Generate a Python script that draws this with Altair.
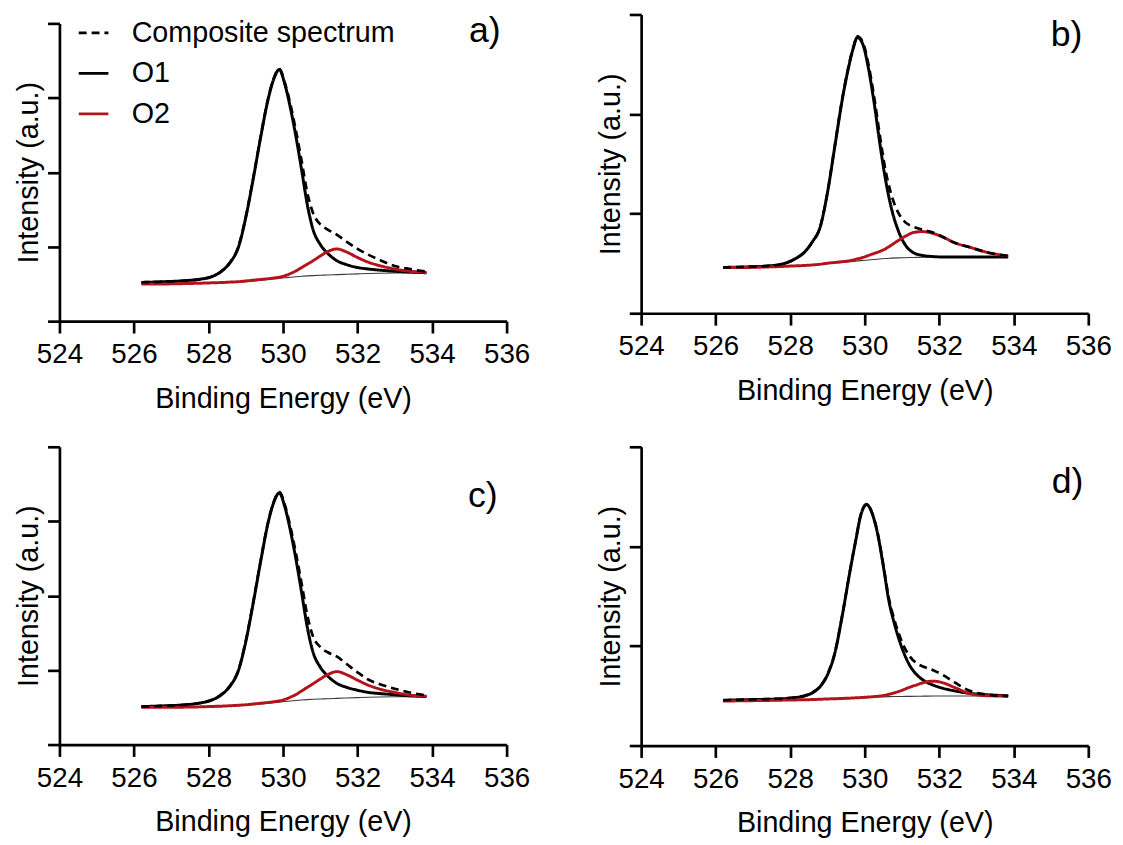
import altair as alt
import pandas as pd

FONT = "Liberation Sans"
RED = "#b3141c"
SERIES = ["Composite spectrum", "O1", "O2"]
X_TICKS = [524, 526, 528, 530, 532, 534, 536]
X_TITLE = "Binding Energy (eV)"
Y_TITLE = "Intensity (a.u.)"

# ---------------- panel a ----------------
XA = [526.2, 526.8, 527.4, 527.8, 528.1, 528.4, 528.6, 528.8, 529.0, 529.2, 529.4, 529.6, 529.75, 529.9,
      530.05, 530.2, 530.35, 530.5, 530.65, 530.8, 531.0, 531.2, 531.45, 531.7, 532.0, 532.3, 532.6, 533.0,
      533.4, 533.85]
O1_A = [0.52, 0.53, 0.545, 0.565, 0.60, 0.69, 0.80, 0.99, 1.39, 1.91, 2.47, 2.98, 3.25, 3.38,
        3.18, 2.86, 2.47, 2.03, 1.57, 1.24, 1.03, 0.91, 0.81, 0.76, 0.72, 0.70, 0.685, 0.67, 0.66, 0.65]
O2_A = [0.50, 0.50, 0.505, 0.51, 0.515, 0.52, 0.525, 0.53, 0.54, 0.55, 0.56, 0.57, 0.58, 0.59,
        0.61, 0.64, 0.675, 0.72, 0.765, 0.81, 0.875, 0.935, 0.97, 0.93, 0.855, 0.79, 0.745, 0.70, 0.67, 0.655]
BG_A = [0.50, 0.50, 0.505, 0.51, 0.512, 0.515, 0.52, 0.525, 0.53, 0.54, 0.55, 0.56, 0.567, 0.575,
        0.583, 0.59, 0.597, 0.603, 0.608, 0.612, 0.616, 0.62, 0.625, 0.63, 0.635, 0.64, 0.643, 0.646, 0.648, 0.65]
COMP_A = [0.52, 0.53, 0.545, 0.565, 0.60, 0.695, 0.805, 0.995, 1.40, 1.92, 2.48, 2.99, 3.26, 3.39,
          3.20, 2.91, 2.55, 2.15, 1.73, 1.46, 1.30, 1.23, 1.16, 1.07, 0.97, 0.89, 0.82, 0.74, 0.70, 0.665]

# ---------------- panel b ----------------
XB = [526.2, 526.8, 527.4, 527.8, 528.1, 528.4, 528.6, 528.8, 529.0, 529.2, 529.4, 529.55, 529.7, 529.8,
      529.95, 530.1, 530.25, 530.4, 530.55, 530.7, 530.9, 531.1, 531.3, 531.55, 531.8, 532.1, 532.4, 532.8,
      533.3, 533.85]
O1_B = [0.46, 0.465, 0.475, 0.495, 0.54, 0.62, 0.72, 0.86, 1.21, 1.68, 2.15, 2.44, 2.67, 2.77,
        2.70, 2.46, 2.12, 1.72, 1.36, 1.08, 0.83, 0.68, 0.61, 0.58, 0.57, 0.565, 0.565, 0.565, 0.565, 0.565]
O2_B = [0.46, 0.46, 0.465, 0.47, 0.475, 0.48, 0.485, 0.492, 0.502, 0.51, 0.518, 0.525, 0.535, 0.545,
        0.56, 0.58, 0.60, 0.62, 0.645, 0.68, 0.73, 0.775, 0.81, 0.82, 0.805, 0.765, 0.71, 0.665, 0.61, 0.575]
BG_B = [0.46, 0.46, 0.465, 0.47, 0.475, 0.48, 0.485, 0.49, 0.50, 0.505, 0.51, 0.515, 0.52, 0.525,
        0.53, 0.535, 0.54, 0.545, 0.55, 0.553, 0.556, 0.558, 0.56, 0.562, 0.564, 0.565, 0.566, 0.567, 0.568, 0.57]
COMP_B = [0.46, 0.465, 0.475, 0.495, 0.54, 0.62, 0.72, 0.86, 1.21, 1.69, 2.16, 2.45, 2.68, 2.78,
          2.72, 2.50, 2.18, 1.80, 1.45, 1.21, 1.01, 0.91, 0.87, 0.84, 0.815, 0.765, 0.71, 0.665, 0.61, 0.575]

# ---------------- panel c ----------------
XC = [526.2, 526.8, 527.4, 527.8, 528.1, 528.4, 528.6, 528.8, 529.0, 529.2, 529.4, 529.6, 529.75, 529.9,
      530.05, 530.2, 530.35, 530.5, 530.65, 530.8, 531.0, 531.2, 531.45, 531.7, 532.0, 532.3, 532.6, 533.0,
      533.4, 533.85]
O1_C = [0.51, 0.52, 0.535, 0.56, 0.60, 0.69, 0.80, 0.99, 1.38, 1.90, 2.46, 2.98, 3.25, 3.38,
        3.19, 2.87, 2.48, 2.04, 1.58, 1.25, 1.04, 0.92, 0.82, 0.77, 0.73, 0.70, 0.685, 0.67, 0.655, 0.645]
O2_C = [0.50, 0.50, 0.503, 0.507, 0.512, 0.517, 0.522, 0.528, 0.535, 0.545, 0.555, 0.565, 0.575, 0.587,
        0.607, 0.637, 0.673, 0.72, 0.768, 0.815, 0.88, 0.94, 0.98, 0.94, 0.865, 0.795, 0.745, 0.70, 0.665, 0.65]
BG_C = [0.50, 0.50, 0.502, 0.505, 0.508, 0.512, 0.516, 0.521, 0.527, 0.535, 0.545, 0.555, 0.562, 0.57,
        0.578, 0.586, 0.593, 0.599, 0.604, 0.608, 0.612, 0.616, 0.621, 0.626, 0.631, 0.636, 0.639, 0.642, 0.644, 0.645]
COMP_C = [0.51, 0.52, 0.536, 0.562, 0.604, 0.695, 0.806, 0.997, 1.39, 1.91, 2.47, 2.99, 3.26, 3.395,
          3.22, 2.92, 2.56, 2.16, 1.74, 1.46, 1.31, 1.24, 1.18, 1.085, 0.97, 0.87, 0.81, 0.75, 0.70, 0.66]

# ---------------- panel d ----------------
XD = [526.2, 526.8, 527.4, 527.8, 528.1, 528.4, 528.6, 528.8, 529.0, 529.2, 529.4, 529.6, 529.75, 529.9,
      530.05, 530.2, 530.35, 530.5, 530.65, 530.8, 531.0, 531.2, 531.4, 531.6, 531.85, 532.1, 532.4, 532.8,
      533.3, 533.85]
O1_D = [0.455, 0.46, 0.465, 0.47, 0.48, 0.50, 0.53, 0.59, 0.71, 0.93, 1.31, 1.74, 2.04, 2.32,
        2.42, 2.33, 2.12, 1.80, 1.45, 1.22, 0.98, 0.81, 0.71, 0.65, 0.605, 0.575, 0.55, 0.525, 0.51, 0.50]
O2_D = [0.447, 0.45, 0.453, 0.456, 0.458, 0.46, 0.462, 0.465, 0.468, 0.47, 0.473, 0.476, 0.479, 0.482,
        0.486, 0.49, 0.495, 0.502, 0.515, 0.53, 0.555, 0.585, 0.61, 0.635, 0.646, 0.63, 0.585, 0.525, 0.50, 0.497]
BG_D = [0.447, 0.449, 0.451, 0.453, 0.455, 0.457, 0.459, 0.461, 0.463, 0.466, 0.469, 0.472, 0.475, 0.478,
        0.481, 0.484, 0.487, 0.489, 0.491, 0.492, 0.493, 0.494, 0.495, 0.496, 0.497, 0.497, 0.498, 0.498, 0.499, 0.50]
COMP_D = [0.455, 0.461, 0.467, 0.473, 0.483, 0.503, 0.533, 0.594, 0.715, 0.934, 1.314, 1.744, 2.044, 2.324,
          2.425, 2.336, 2.128, 1.813, 1.474, 1.258, 1.04, 0.90, 0.825, 0.789, 0.754, 0.708, 0.637, 0.552, 0.511, 0.497]


def series_frame(xs, ys, name):
    return pd.DataFrame({"x": xs, "y": ys, "series": name})


def panel(xs, comp, o1, o2, bg, ymax, height, tag, tag_x, tag_y, show_legend):
    x = alt.X("x:Q", scale=alt.Scale(domain=[524, 536], nice=False, zero=False),
              axis=alt.Axis(values=X_TICKS, title=X_TITLE, format="d", labelFlush=False))
    y = alt.Y("y:Q", scale=alt.Scale(domain=[0, ymax], nice=False, zero=True),
              axis=alt.Axis(values=list(range(ymax + 1)), labels=False, title=Y_TITLE))
    if show_legend:
        leg = alt.Legend(title=None, orient="none", legendX=18, legendY=-7, symbolType="stroke",
                         symbolSize=900, symbolStrokeWidth=2.8, labelFontSize=29, labelFont=FONT,
                         labelColor="#000000", labelOffset=22, labelLimit=0, rowPadding=9, padding=0)
    else:
        leg = None
    color = alt.Color("series:N", scale=alt.Scale(domain=SERIES, range=["#000000", "#000000", RED]),
                      legend=leg)
    dash = alt.StrokeDash("series:N", scale=alt.Scale(domain=SERIES, range=[[8, 5], [1, 0], [1, 0]]),
                          legend=leg)
    bg_layer = alt.Chart(pd.DataFrame({"x": xs, "y": bg})).mark_line(
        color="#3a3a3a", strokeWidth=1.1, interpolate="monotone").encode(x=x, y=y)

    def ser(name, ys, w):
        return alt.Chart(series_frame(xs, ys, name)).mark_line(
            strokeWidth=w, interpolate="monotone").encode(x=x, y=y, color=color, strokeDash=dash)

    tag_layer = alt.Chart(pd.DataFrame({"t": [tag]})).mark_text(
        font=FONT, fontSize=36, align="right", baseline="middle", color="#000000").encode(
        text="t:N", x=alt.value(tag_x), y=alt.value(tag_y))
    return alt.layer(bg_layer, ser("O1", o1, 3.0), ser("O2", o2, 3.0),
                     ser("Composite spectrum", comp, 2.7), tag_layer).properties(width=452, height=height)


pa = panel(XA, COMP_A, O1_A, O2_A, BG_A, 4, 301, "a)", 446, 8, True)
pb = panel(XB, COMP_B, O1_B, O2_B, BG_B, 3, 302, "b)", 446, 21, False)
pc = panel(XC, COMP_C, O1_C, O2_C, BG_C, 4, 301, "c)", 443, 50, False)
pd_ = panel(XD, COMP_D, O1_D, O2_D, BG_D, 3, 302, "d)", 447, 36, False)

spacer = alt.Chart(pd.DataFrame({"s": [0]})).mark_point(opacity=0, size=1).properties(width=452, height=1)
col_a = alt.vconcat(spacer, pa, spacing=-2).resolve_scale(color="independent", strokeDash="independent")

row1 = alt.hconcat(col_a, pb, spacing=66).resolve_scale(color="independent", strokeDash="independent")
row2 = alt.hconcat(pc, pd_, spacing=66).resolve_scale(color="independent", strokeDash="independent")
chart = alt.vconcat(row1, row2, spacing=32).resolve_scale(
    color="independent", strokeDash="independent").properties(
    padding={"left": 6, "top": 0, "right": 3, "bottom": 5}
).configure_view(stroke=None).configure_axis(
    grid=False, domainColor="#000000", domainWidth=2.7, tickColor="#000000", tickWidth=2.7,
    tickSize=12, labelFont=FONT, labelFontSize=28, labelColor="#000000", labelPadding=8,
    titleFont=FONT, titleFontSize=29, titleFontWeight="normal", titleColor="#000000", titlePadding=16
).configure_axisY(titlePadding=3)

chart.save("out.html", embed_options={"renderer": "svg", "actions": False})
